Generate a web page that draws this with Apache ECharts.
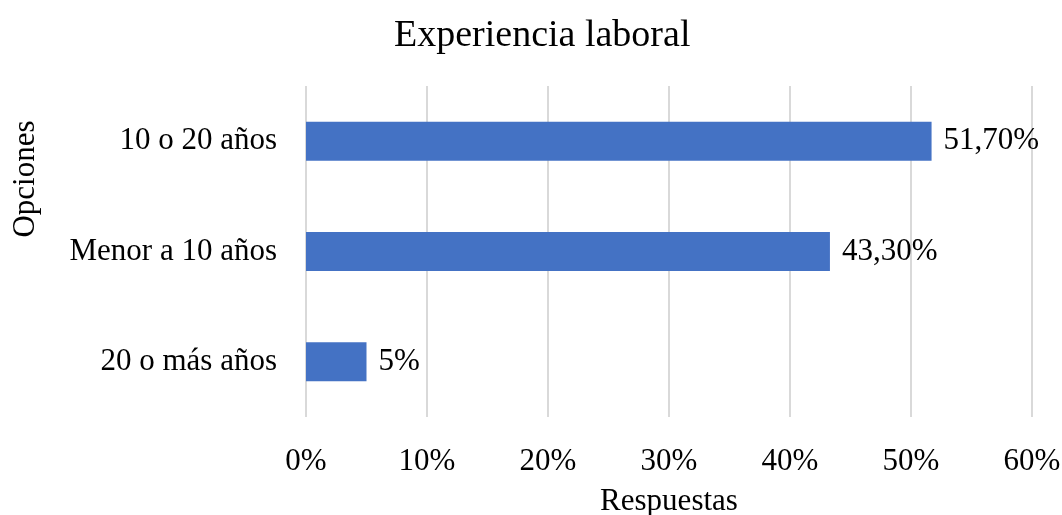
<!DOCTYPE html>
<html lang="es">
  <head>
    <meta charset="UTF-8" />
    <title>Experiencia laboral</title>
    <style>
      html,
      body {
        margin: 0;
        background: #fff;
      }
      #main {
        width: 1062px;
        height: 515px;
      }
    </style>
  </head>
  <body>
    <div id="main"></div>
    <script src="https://cdn.jsdelivr.net/npm/echarts@6/dist/echarts.min.js"></script>
    <script>
      // categorías (de abajo hacia arriba, como en el eje)
      const categories = ["20 o más años", "Menor a 10 años", "10 o 20 años"];
      const values = [5, 43.3, 51.7];
      const valueLabels = ["5%", "43,30%", "51,70%"];
      const xTicks = [0, 10, 20, 30, 40, 50, 60];

      const font = "'Liberation Serif', 'Times New Roman', serif";

      const chart = echarts.init(document.getElementById("main"));
      chart.setOption({
        animation: false,
        textStyle: { fontFamily: font, color: "#000" },
        title: {
          text: "Experiencia laboral",
          left: 389,
          top: 12,
          textStyle: { fontFamily: font, fontSize: 38, fontWeight: "normal", color: "#000" },
        },
        // título del eje vertical, algo por encima del centro como en el original
        graphic: [
          {
            type: "text",
            x: 26,
            y: 179,
            rotation: Math.PI / 2,
            style: {
              text: "Opciones",
              align: "center",
              verticalAlign: "middle",
              fontFamily: font,
              fontSize: 31,
              fill: "#000",
            },
          },
        ],
        grid: { left: 306, right: 30, top: 86, bottom: 98, outerBoundsMode: "none" },
        xAxis: {
          type: "value",
          min: xTicks[0],
          max: xTicks[xTicks.length - 1],
          interval: 10,
          name: "Respuestas",
          nameLocation: "middle",
          nameGap: 69,
          nameTextStyle: { fontFamily: font, fontSize: 31, color: "#000" },
          axisLine: { show: false },
          axisTick: { show: false },
          axisLabel: {
            formatter: "{value}%",
            margin: 29,
            fontFamily: font,
            fontSize: 31,
            color: "#000",
          },
          splitLine: { lineStyle: { color: "#d9d9d9", width: 2 } },
        },
        yAxis: {
          type: "category",
          data: categories,
          axisLine: { show: false },
          axisTick: { show: false },
          axisLabel: { margin: 29, fontFamily: font, fontSize: 31, color: "#000" },
        },
        series: [
          {
            type: "bar",
            data: values,
            barWidth: 39,
            itemStyle: { color: "#4472c4" },
            label: {
              show: true,
              position: "right",
              distance: 12,
              fontFamily: font,
              fontSize: 31,
              color: "#000",
              formatter: (p) => valueLabels[p.dataIndex],
            },
          },
        ],
      });
    </script>
  </body>
</html>
